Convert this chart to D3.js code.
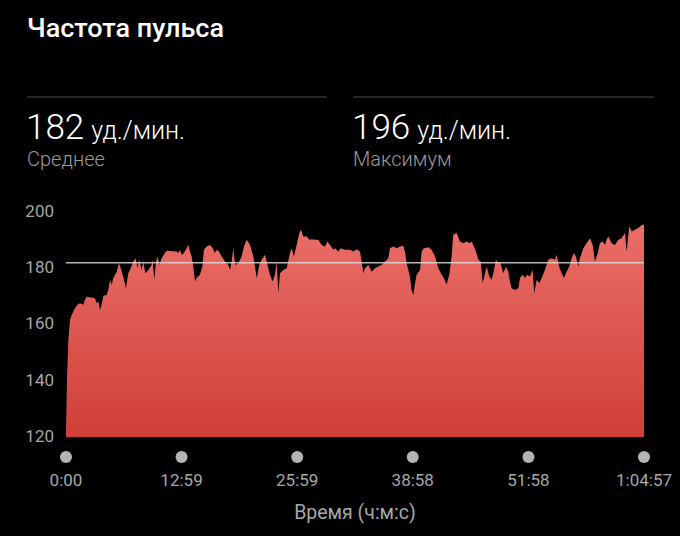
<!DOCTYPE html>
<html>
<head>
<meta charset="utf-8">
<script src="https://cdn.jsdelivr.net/npm/d3@7"></script>
<style>
  html, body { margin: 0; padding: 0; background: #000; }
  svg { display: block; font-family: Roboto, "Noto Sans", sans-serif; }
</style>
</head>
<body>
<svg id="chart" width="680" height="536"></svg>
<script>
// ---- data ----
const timeSec = [0,7,16,27,38,54,76,94,117,128,139,162,195,207,218,229,240,252,274,285,297,308,319,342,357,369,386,404,420,436,454,470,481,494,510,521,535,555,577,584,595,607,618,629,645,667,679,746,757,768,780,795,813,825,836,847,858,870,881,903,919,930,948,971,989,1004,1016,1031,1049,1072,1094,1106,1117,1128,1140,1162,
1184,1200,1218,1241,1263,1286,1303,1319,1342,1353,1375,1393,1409,1420,1432,1443,1465,1488,1510,1521,1537,1555,1573,1584,1600,1623,1641,1656,1679,1701,1724,1746,1762,1780,1802,1814,1836,1852,1881,1915,1937,1960,1982,1993,2005,2016,2038,2061,2083,2106,2128,2151,2173,2184,2207,2229,2252,2274,2285,2297,2319,2330,2342,2353,2364,2387,2398,2413,2443,2465,2488,2510,2533,2548,2566,2584,2600,2611,2634,
2656,2679,2701,2724,2735,2746,2764,2780,2796,2809,2825,2836,2854,2870,2881,2899,2915,2926,2948,2966,2982,2993,3005,3027,3050,3061,3079,3094,3110,3128,3146,3157,3173,3191,3207,3229,3252,3274,3297,3308,3324,3342,3357,3375,3393,3409,3425,3438,3454,3465,3488,3510,3533,3551,3566,3582,3600,3618,3634,3645,3656,3679,3701,3724,3746,3769,3780,3798,3814,3836,3858,3881,3897];
const bpm = [122,141.5,154.5,161.6,163.4,165.2,167,167.6,167,168.8,169.9,169.7,169.3,167.6,168.2,165.2,167,170.2,170.5,172.3,175.9,174.1,176.5,178.8,181.8,180,177.1,172.9,178.2,180,182.4,183.6,180,183,179.4,182.4,178.2,179.4,181.2,183,175.9,182.4,184.2,181.2,183.6,185.4,186.2,186,185.4,186.6,184.8,185.4,187.1,188.3,186,184.2,180.6,175.3,176.5,177.7,180.6,186.6,187.7,188.3,187.1,185.4,186.6,186,184.2,182.4,181.2,179.4,182.4,187.1,181.2,181.8,
184.2,187.7,190.1,188.3,184.2,176.5,181.2,183,184.8,182.4,177.7,175.3,177.7,182.4,171.1,178.2,179.4,180,185.4,187.1,184.2,188.3,192.5,193.7,191.3,191.3,190.1,190.3,190.1,190.1,188.3,187.7,189.5,188.3,186.6,187.1,186,187.1,186.6,186.6,186,186.8,186,182.4,178.2,180,181.2,178.8,180,180.6,181.2,182.4,183.6,187.1,187.7,187.1,187.7,188,186,181.8,177.1,172.3,170.5,174.7,177.7,179.4,186,187.1,187.5,186.6,184.2,180,177.7,176.5,174.1,177.7,184.2,191.9,192.5,
189.5,188.9,189.5,188.9,189.5,188.3,186,183,182.4,174.7,178.2,180.6,177.1,175.9,178.2,183,181.8,182.4,178.2,180.6,178.8,175.3,172.9,172.3,172.9,176.5,177.7,176.5,177.7,177.1,179.4,171.1,175.9,174.7,176.5,179.4,183,183.6,183,184.8,180.6,178.2,176.5,178.8,180.6,183.6,185.4,184.2,180.6,183.6,187.1,188.9,190.7,188.3,182.4,184.8,188.9,189.5,188.3,190.1,191.3,188.9,188.3,190.1,190.7,192.5,186,194.9,193.1,193.7,194.3,195.3,195.6];

const yTicks = [120, 140, 160, 180, 200];
const xTickValues = [0, 779, 1559, 2338, 3118, 3897];
const xTickLabels = ["0:00", "12:59", "25:59", "38:58", "51:58", "1:04:57"];
const averageBpm = 182;
const maxBpm = 196;
const titleText = "Частота пульса";
const unitText = "уд./мин.";
const statLabels = ["Среднее", "Максимум"];
const xAxisTitle = "Время (ч:м:с)";

// ---- drawing ----
const svg = d3.select("#chart");
svg.append("rect").attr("width", 680).attr("height", 536).attr("fill", "#000");

const x = d3.scaleLinear().domain([0, 3897]).range([66, 644]);
const y = d3.scaleLinear().domain([120, 200]).range([437, 212]);

// title
svg.append("text").attr("x", 27).attr("y", 37)
  .attr("fill", "#fff").attr("font-size", 26).attr("font-weight", 500)
  .attr("textLength", 197).attr("lengthAdjust", "spacingAndGlyphs")
  .text(titleText);

// stats
const stats = [{v: averageBpm, label: statLabels[0], x0: 27, x1: 327},
               {v: maxBpm, label: statLabels[1], x0: 353, x1: 654}];
stats.forEach(s => {
  svg.append("line").attr("x1", s.x0).attr("x2", s.x1).attr("y1", 97).attr("y2", 97)
    .attr("stroke", "#4a4a4a").attr("stroke-width", 1.2);
  const t = svg.append("text").attr("x", s.x0 - 1).attr("y", 139).attr("fill", "#fff");
  t.append("tspan").attr("font-size", 35).attr("font-weight", 300).text(s.v);
  t.append("tspan").attr("font-size", 25).attr("font-weight", 300).attr("dx", 7).text(unitText);
  svg.append("text").attr("x", s.x0).attr("y", 166).attr("fill", "#9a9a9a")
    .attr("font-size", 20).attr("font-weight", 300).text(s.label);
});

// gradient
const defs = svg.append("defs");
const grad = defs.append("linearGradient").attr("id", "hrGrad")
  .attr("gradientUnits", "userSpaceOnUse")
  .attr("x1", 0).attr("x2", 0).attr("y1", y(200)).attr("y2", y(120));
grad.append("stop").attr("offset", "0%").attr("stop-color", "#ec716b");
grad.append("stop").attr("offset", "100%").attr("stop-color", "#d03f38");

const data = timeSec.map((t, i) => ({t, v: bpm[i]}));
const area = d3.area()
  .x(d => x(d.t))
  .y0(y(120))
  .y1(d => y(d.v))
  .curve(d3.curveLinear);

svg.append("path").datum(data).attr("d", area).attr("fill", "url(#hrGrad)");

// average line
svg.append("line")
  .attr("x1", x(0)).attr("x2", x(3897))
  .attr("y1", y(averageBpm)).attr("y2", y(averageBpm))
  .attr("stroke", "#d8d8d8").attr("stroke-opacity", 0.85).attr("stroke-width", 1.5);

// y labels
svg.append("g").selectAll("text").data(yTicks).join("text")
  .attr("x", 54).attr("y", d => y(d) - 1).attr("dy", "0.35em")
  .attr("text-anchor", "end").attr("fill", "#a6a6a6").attr("font-size", 17)
  .text(d => d);

// x axis dots + labels
const xg = svg.append("g");
xg.selectAll("circle").data(xTickValues).join("circle")
  .attr("cx", d => x(d)).attr("cy", 457).attr("r", 6).attr("fill", "#b4b4b4");
xg.selectAll("text").data(xTickValues).join("text")
  .attr("x", d => x(d)).attr("y", 486).attr("text-anchor", "middle")
  .attr("fill", "#a6a6a6").attr("font-size", 17)
  .text((d, i) => xTickLabels[i]);

svg.append("text").attr("x", 355).attr("y", 519).attr("text-anchor", "middle")
  .attr("fill", "#a6a6a6").attr("font-size", 19.5).text(xAxisTitle);
</script>
</body>
</html>
